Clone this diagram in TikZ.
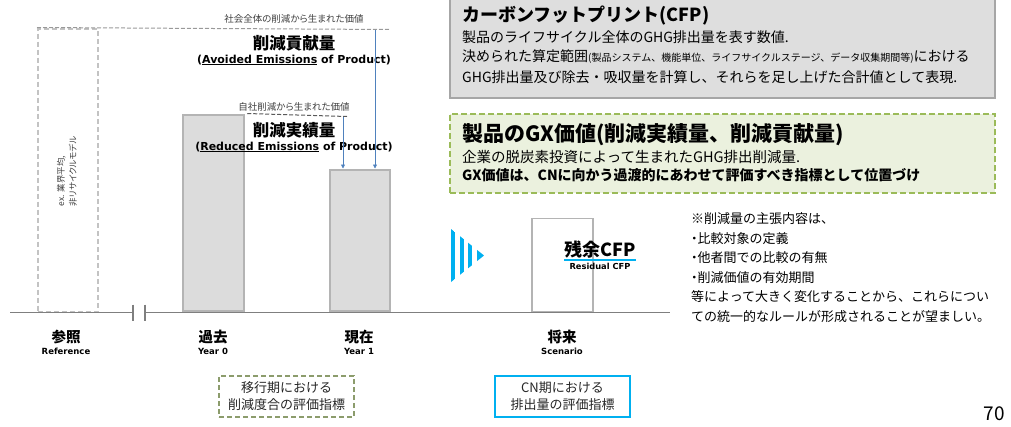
\documentclass[tikz,border=0pt]{standalone}
\usepackage{fontspec}
\setmainfont{Noto Sans CJK JP}
\newfontfamily\jpp[RawFeature=+palt]{Noto Sans CJK JP}
\newfontfamily\verd{DejaVu Sans}
\usepackage{xcolor}
\usetikzlibrary{positioning,calc,arrows.meta}

\definecolor{boxgrey}{HTML}{DEDEDE}
\definecolor{boxline}{HTML}{A6A6A6}
\definecolor{gxfill}{HTML}{EBF1DE}
\definecolor{gxline}{HTML}{9BBB59}
\definecolor{barfill}{HTML}{DCDCDC}
\definecolor{barline}{HTML}{B4B4B4}
\definecolor{axisgrey}{HTML}{7F7F7F}
\definecolor{arrowblue}{HTML}{4F81BD}
\definecolor{cnblue}{HTML}{00B0F0}
\definecolor{transgreen}{HTML}{8C9C6C}
\definecolor{txtgrey}{HTML}{404040}

\newcommand\fsz[1]{\fontsize{#1}{#1}\selectfont}
\newcommand\bul{{\jpp ・}}

\begin{document}
\begin{tikzpicture}[x=1pt, y=-1pt,
    bar/.style={draw=barline, fill=barfill, line width=2.5pt, anchor=south, inner sep=0pt},
    refbox/.style={draw=barline!80, dash pattern=on 5pt off 3pt, line width=2pt, anchor=south, inner sep=0pt},
    jlbl/.style={font=\bfseries\fsz{14.5}, inner sep=0pt},
    elbl/.style={font=\verd\bfseries\fsz{8.5}, inner sep=0pt},
    tinylbl/.style={font=\jpp\fsz{9.5}, text=txtgrey, inner sep=0pt},
    boxtext/.style={anchor=west, inner sep=0pt},
    note/.style={font=\fsz{13}, anchor=west, inner sep=0pt},
    arr/.style={draw=arrowblue, line width=0.8pt, -{Triangle[length=4pt,width=4pt]}},
    evalbox/.style={minimum width=#1, minimum height=41pt, line width=2.5pt, align=center, text=black!85, font=\fontsize{13}{17}\selectfont, inner sep=0pt}
]
    \useasboundingbox (0,0) rectangle (1011,426);

    % CFP box
    \node [draw=boxline, fill=boxgrey, line width=2.5pt, minimum width=545pt, minimum height=104pt, inner sep=0pt] (cfp) at (722.5,46) {};
    \node [boxtext, font=\bfseries\fsz{18}] (cfptitle) at (462,16) {カーボンフットプリント(CFP)};
    \node [boxtext, font=\fsz{14}] (cfpl1) at (462,37.5) {製品のライフサイクル全体のGHG排出量を表す数値.};
    \node [boxtext, font=\fsz{14}] (cfpl2) at (462,57) {決められた算定範囲{\fsz{10}(製品システム、機能単位、ライフサイクルステージ、データ収集期間等)}における};
    \node [boxtext, font=\fsz{14}] (cfpl3) at (462,77) {GHG排出量及び除去・吸収量を計算し、それらを足し上げた合計値として表現.};

    % GX box
    \node [draw=gxline, fill=gxfill, dash pattern=on 6pt off 3pt, line width=2.5pt, minimum width=545pt, minimum height=79pt, inner sep=0pt] (gx) at (722.5,153.5) {};
    \node [boxtext, font=\bfseries\fsz{21}] (gxtitle) at (462,135) {製品のGX価値(削減実績量、削減貢献量)};
    \node [boxtext, font=\fsz{14.5}] (gxl1) at (462,157) {企業の脱炭素投資によって生まれたGHG排出削減量.};
    \node [boxtext, font=\bfseries\fsz{14}] (gxl2) at (462,175) {GX価値は、CNに向かう過渡的にあわせて評価すべき指標として位置づけ};

    % Bars
    \node [refbox, minimum width=60pt, minimum height=283pt] (refbar) at (68,312.5) {};
    \node [rotate=90, align=left, font=\jpp\fontsize{8.5}{12}\selectfont, text=txtgrey, inner sep=0pt] (refnote) at (67,171) {ex. 業界平均,\\非リサイクルモデル};
    \node [bar, minimum width=61pt, minimum height=196.5pt] (y0bar) at (213.5,312.5) {};
    \node [bar, minimum width=60pt, minimum height=141.5pt] (y1bar) at (360,312.5) {};
    \node [draw=barline, fill=white, line width=1.5pt, anchor=south, inner sep=0pt, minimum width=61pt, minimum height=93.5pt] (scbar) at (562.5,312.5) {};

    % Axis with break
    \coordinate (axl) at (10,312.5);
    \coordinate (axr) at (670,312.5);
    \coordinate (brk1) at (133,312.5);
    \coordinate (brk2) at (145,312.5);
    \draw [axisgrey, line width=1.5pt] (axl) -- (brk1) (brk2) -- (axr);
    \draw [axisgrey, line width=1.5pt] (brk1) ++(0,-8) -- ++(0,16) (brk2) ++(0,-8) -- ++(0,16);

    % Avoided emissions
    \coordinate (avtop) at (390,29.5);
    \draw [black!40, dash pattern=on 4pt off 2pt, line width=1pt] (refbar.north west) -- (avtop);
    \node [tinylbl] (avlbl) at (294,19) {社会全体の削減から生まれた価値};
    \node [font=\bfseries\fsz{16.5}, inner sep=0pt] (avname) at (294,43) {削減貢献量};
    \node [font=\verd\bfseries\fsz{11}, inner sep=0pt] (aven) at (294,60) {(\underline{Avoided Emissions} of Product)};

    % Reduced emissions
    \coordinate (retop) at (347,116.5);
    \draw [black!65, dash pattern=on 4pt off 2pt, line width=1pt] (y0bar.north east) ++(2,0) -- (retop);
    \node [tinylbl] (relbl) at (294,107) {自社削減から生まれた価値};
    \node [font=\bfseries\fsz{16.5}, inner sep=0pt] (rename) at (294,130) {削減実績量};
    \node [font=\verd\bfseries\fsz{11}, inner sep=0pt] (reen) at (294,147) {(\underline{Reduced Emissions} of Product)};

    \coordinate (rearr) at (343,116.5);
    \coordinate (avarr) at (375,29.5);
    \draw [arr] (rearr) -- (rearr |- y1bar.north);
    \draw [arr] (avarr) -- (avarr |- y1bar.north);

    % Axis labels
    \node [jlbl] (refname) at (66,337) {参照};
    \node [elbl, below=4pt of refname] (refen) {Reference};
    \node [jlbl] (y0name) at (213,337) {過去};
    \node [elbl, below=4pt of y0name] (y0en) {Year 0};
    \node [jlbl] (y1name) at (359,337) {現在};
    \node [elbl, below=4pt of y1name] (y1en) {Year 1};
    \node [jlbl] (scname) at (562,337) {将来};
    \node [elbl, below=4pt of scname] (scen) {Scenario};

    % Evaluation boxes
    \node [evalbox=135pt, draw=transgreen, dash pattern=on 5pt off 3pt] (transbox) at (286.5,396.5) {移行期における\\削減度合の評価指標};
    \node [evalbox=135pt, draw=cnblue] (cnbox) at (562.5,396.5) {CN期における\\排出量の評価指標};

    % Chevron
    \begin{scope}
        \clip (451,229) -- (484,255.5) -- (451,282) -- cycle;
        \foreach \xa/\xb in {451/455, 460/464, 468/472, 477/484}
            \fill [cnblue] (\xa,225) rectangle (\xb,286);
    \end{scope}

    % Residual CFP
    \node [font=\bfseries\fsz{18}, inner sep=0pt] (resid) at (600,250) {残余CFP};
    \draw [cnblue, line width=1.5pt] ([yshift=-1pt]resid.south west) -- ([yshift=-1pt]resid.south east);
    \node [elbl, font=\verd\bfseries\fsz{8.3}, below=4pt of resid] (residen) {Residual CFP};

    % Notes
    \foreach \i/\txt in {0/※削減量の主張内容は、, 1/\bul 比較対象の定義, 2/\bul 他者間での比較の有無, 3/\bul 削減価値の有効期間, 4/等によって大きく変化することから、これらについ, 5/ての統一的なルールが形成されることが望ましい。}
        \node [note] (note\i) at (691,219+19.5*\i) {\txt};

    \node [font=\fsz{19}, inner sep=0pt] (pageno) at (994,414) {70};
\end{tikzpicture}
\end{document}
